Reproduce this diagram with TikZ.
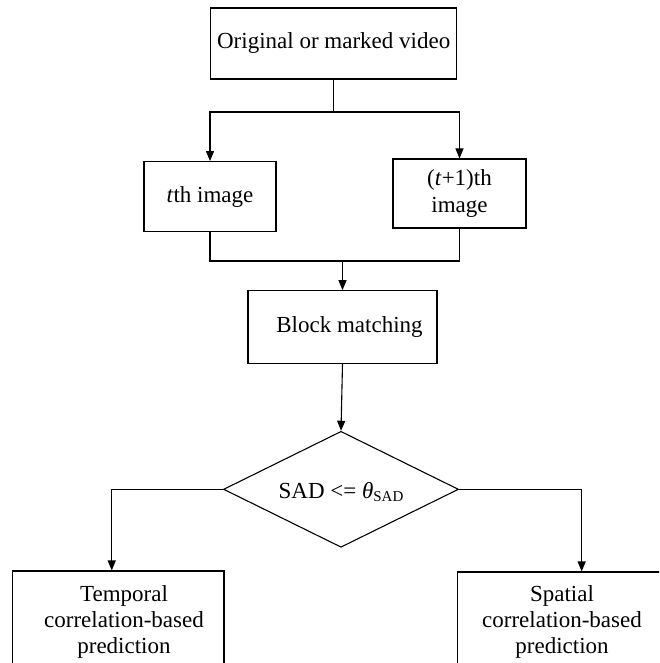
\documentclass[tikz,border=0pt]{standalone}
\usepackage{fontspec}
\setmainfont{Liberation Serif}
\usetikzlibrary{arrows.meta,shapes.geometric}
\begin{document}
\begin{tikzpicture}[x=1pt,y=-1pt,
  every node/.style={font=\fontsize{23}{26}\selectfont},
  box/.style={draw,line width=1.1pt,rectangle,inner sep=0pt,align=center},
  txt/.style={inner sep=0pt,align=center},
  conn/.style={line width=1.1pt},
  arr/.style={line width=1.1pt,-{Triangle[length=10pt,width=8pt]}}]
\useasboundingbox (0,0) rectangle (659,663);
\fill[white] (0,0) rectangle (659,663);
\begin{scope}
\clip (0,0) rectangle (659,663);
\node[box,minimum width=246pt,minimum height=71pt] (src) at (333.7,43.5) {Original or marked video};
\node[box,minimum width=132pt,minimum height=70pt] (tth) at (210,196.6) {\textit{t}th image};
\node[box,minimum width=133pt,minimum height=69pt] (t1) at (459.5,193.5) {(\textit{t}+1)th\\[1pt]image};
\node[box,minimum width=189pt,minimum height=72.6pt] (bm) at (342.5,327) {\hspace{14pt}Block matching};
\node[draw,line width=1.1pt,diamond,inner sep=0pt,minimum width=235pt,minimum height=116pt] (dec) at (341,489.3) {};
\node[txt] (dect) at (341,492) {SAD <= {\itshape θ}\raisebox{-2.5pt}{\fontsize{15}{15}\selectfont SAD}};
\node[box,minimum width=211.3pt,minimum height=149pt] (lb) at (118.35,645.5) {};
\node[txt] (lbt) at (124,622) {Temporal\\correlation-based\\prediction};
\node[box,minimum width=222.7pt,minimum height=149pt] (rb) at (568.65,646.5) {};
\node[txt] (rbt) at (562,622) {Spatial\\correlation-based\\prediction};
\coordinate (j1) at (333.7,112);
\coordinate (j2) at (342.5,261);
\draw[conn] (src.south) -- (j1);
\draw[arr] (j1) -| (tth.north);
\draw[arr] (j1) -| (t1.north);
\draw[conn] (tth.south) |- (j2);
\draw[conn] (t1.south) |- (j2);
\draw[arr] (j2) -- (bm.north);
\draw[arr] (bm.south) -- (dec.north);
\draw[arr] (dec.west) -| ([xshift=-6.6pt]lb.north);
\draw[arr] (dec.east) -| ([xshift=13pt]rb.north);
\end{scope}
\end{tikzpicture}
\end{document}
